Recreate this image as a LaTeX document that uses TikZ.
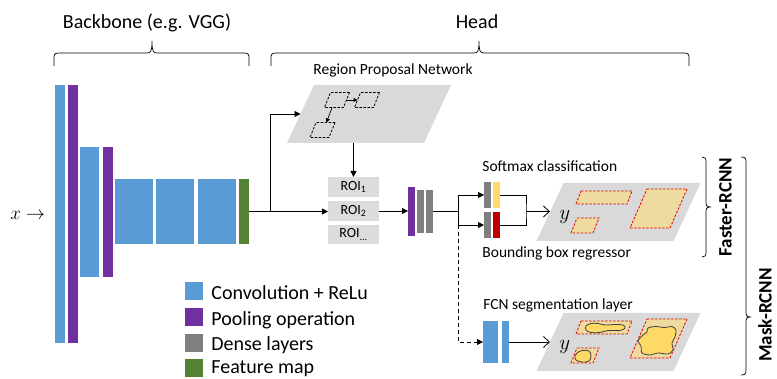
\RequirePackage{fix-cm}
\documentclass[tikz,border=0pt]{standalone}
\usepackage{fontspec}
\setmainfont{Carlito}
\usetikzlibrary{arrows.meta,calc}

\definecolor{convblue}{HTML}{5B9BD5}
\definecolor{poolpurple}{HTML}{7030A0}
\definecolor{densegray}{HTML}{7F7F7F}
\definecolor{featgreen}{HTML}{548235}
\definecolor{planegray}{HTML}{D9D9D9}
\definecolor{roigray}{HTML}{DCDCDC}
\definecolor{clsyellow}{HTML}{FFD966}
\definecolor{regred}{HTML}{C00000}
\definecolor{tanfill}{HTML}{EFDBA0}
\definecolor{boxred}{HTML}{E00000}
\definecolor{blobyellow}{HTML}{FFD966}
\definecolor{blobline}{HTML}{404040}

\begin{document}
\begin{tikzpicture}[x=1pt,y=-1pt,line width=0.8pt,
  layer/.style={inner sep=0pt, outer sep=0pt, draw=none, anchor=north west},
  roi/.style={layer, fill=roigray, minimum width=51pt, minimum height=20pt,
    font=\fontsize{14}{16}\selectfont},
  plane/.style={rectangle, xslant=0.466, minimum width=137pt, minimum height=58pt,
    inner sep=0pt, outer sep=0pt, fill=planegray},
  rbox/.style={rectangle, xslant=0.4, minimum width=19pt, minimum height=15pt,
    inner sep=0pt, outer sep=0pt, draw, line width=0.8pt,
    dash pattern=on 2.5pt off 1.5pt},
  arr/.style={-{Triangle[length=6pt,width=6pt]}},
  smallarr/.style={-{Triangle[length=4pt,width=4pt]}, line width=0.7pt},
  openarr/.style={-{Straight Barb[length=6pt,width=11pt]}},
  brace/.style={line width=0.7pt},
  biglbl/.style={inner sep=0pt, anchor=base, font=\fontsize{20}{24}\selectfont},
  leglbl/.style={inner sep=0pt, anchor=base west, font=\fontsize{20}{24}\selectfont},
  lbl/.style={inner sep=0pt, anchor=base west, font=\fontsize{15.5}{18}\selectfont},
  sidelbl/.style={inner sep=0pt, anchor=base, rotate=90,
    font=\fontsize{19}{22}\selectfont\bfseries},
  mathlbl/.style={inner sep=0pt, anchor=base west},
  tanbox/.style={fill=tanfill, draw=boxred, line width=0.8pt,
    dash pattern=on 2.5pt off 1.5pt},
  blob/.style={fill=blobyellow, draw=blobline, line width=0.8pt},
]
\useasboundingbox (0,0) rectangle (777,379);

% ---- top labels and braces
\node[biglbl] (bblbl) at (147,28.5) {Backbone (e.g. VGG)};
\node[biglbl] (headlbl) at (477,29) {Head};
\draw[brace] (54,66) -- (54,58) .. controls (54,54) and (55,53) .. (59,53)
  -- (147,53) .. controls (151,53) and (152,51) .. (152,41)
  .. controls (152,51) and (153,53) .. (157,53)
  -- (244,53) .. controls (248,53) and (249,54) .. (249,58) -- (249,66);
\draw[brace] (271,66) -- (271,58) .. controls (271,54) and (272,53) .. (276,53)
  -- (474,53) .. controls (478,53) and (479,51) .. (479,41)
  .. controls (479,51) and (480,53) .. (484,53)
  -- (684,53) .. controls (688,53) and (689,54) .. (689,58) -- (689,66);

% ---- backbone
\node[mathlbl, font=\fontsize{19}{22}\selectfont] (xin) at (10,220) {$x\rightarrow$};
\node[layer, fill=convblue, minimum width=10pt, minimum height=258pt] (conv1) at (55,85) {};
\node[layer, fill=poolpurple, minimum width=10pt, minimum height=258pt] (pool1) at (68,85) {};
\node[layer, fill=convblue, minimum width=19pt, minimum height=130pt] (conv2) at (80,147) {};
\node[layer, fill=poolpurple, minimum width=10pt, minimum height=130pt] (pool2) at (103,147) {};
\node[layer, fill=convblue, minimum width=38pt, minimum height=65pt] (conv3) at (115,179) {};
\node[layer, fill=convblue, minimum width=38pt, minimum height=65pt] (conv4) at (156,179) {};
\node[layer, fill=convblue, minimum width=38pt, minimum height=65pt] (conv5) at (198,179) {};
\node[layer, fill=featgreen, minimum width=10pt, minimum height=65pt] (feat) at (239,179) {};

% ---- region proposal network
\node[inner sep=0pt, anchor=base, font=\fontsize{15.5}{18}\selectfont] (rpnlbl) at (393,75) {Region Proposal Network};
\node[plane] (rpn) at (369,114) {};
\node[rbox] (anc1) at (337,100) {};
\node[rbox] (anc2) at (367,100) {};
\node[rbox] (anc3) at (322.5,130) {};
\draw[smallarr] (anc1.east) -- (anc2.west);
\draw[smallarr] ($(anc1.south west)!0.4!(anc1.south east)$)
  -- ($(anc3.north west)!0.55!(anc3.north east)$);

% ---- ROIs
\node[roi] (roi1) at (328,177) {ROI\textsubscript{1}};
\node[roi] (roi2) at (328,201) {ROI\textsubscript{2}};
\node[roi, minimum height=19pt] (roi3) at (328,225) {\raisebox{-2pt}{ROI\textsubscript{...}}};

\coordinate (fork) at (270,211.5);
\draw (feat.east) -- (fork);
\draw[arr] (fork) -- (fork -| roi2.west);
\draw[arr] (fork) |- (rpn.west);
\draw[arr] (rpn.south -| roi1.north) -- (roi1.north);

% ---- dense layers after ROI pooling
\node[layer, fill=poolpurple, minimum width=7pt, minimum height=49pt] (pool3) at (408,187) {};
\node[layer, fill=densegray, minimum width=7pt, minimum height=43pt] (dense1) at (417,190) {};
\node[layer, fill=densegray, minimum width=7pt, minimum height=43pt] (dense2) at (426,190) {};
\draw[arr] (roi2.east) -- (roi2.east -| pool3.west);

\coordinate (split) at (458,211.5);
\draw (dense2.east) -- (split);

% ---- classification / regression branch
\node[lbl] (clslbl) at (482,171.5) {Softmax classification};
\node[lbl] (reglbl) at (482,258) {Bounding box regressor};
\node[layer, fill=densegray, minimum width=7pt, minimum height=26pt] (clsdense) at (484,182) {};
\node[layer, fill=clsyellow, minimum width=7pt, minimum height=26pt] (clsout) at (493,182) {};
\node[layer, fill=densegray, minimum width=7pt, minimum height=26pt] (regdense) at (484,212) {};
\node[layer, fill=regred, minimum width=7pt, minimum height=26pt] (regout) at (493,212) {};
\draw[arr] (split) |- (clsdense.west);
\draw[arr] (split) |- (regdense.west);
\coordinate (merge) at (526,211.5);
\draw (clsout.east) -| (merge) |- (regout.east);

\node[plane] (soft) at (618.5,212) {};
\draw[openarr] (merge) -- (merge -| soft.west);
\node[mathlbl, font=\fontsize{21}{24}\selectfont] (ysoft) at (559,220) {$y$};

% ---- mask branch
\node[lbl] (fcnlbl) at (483,310) {FCN segmentation layer};
\node[layer, fill=convblue, minimum width=15pt, minimum height=42pt] (fcn1) at (483,321) {};
\node[layer, fill=convblue, minimum width=7pt, minimum height=42pt] (fcn2) at (502,321) {};
\draw[arr, dash pattern=on 4pt off 3pt] (split |- regdense.west) |- (fcn1.west);

\node[plane] (mask) at (618.5,342) {};
\draw[openarr] (fcn2.east) -- (fcn2.east -| mask.west);
\node[mathlbl, font=\fontsize{21}{24}\selectfont] (ymask) at (559,350) {$y$};

% ---- predicted boxes on both output planes
\foreach \dy in {0,130} {
  \begin{scope}[shift={(0,\dy)}]
    \draw[tanbox] (581,191) -- (632,191) -- (627,204) -- (576,204) -- cycle;
    \draw[tanbox] (577,218) -- (599,218) -- (593,233) -- (571,233) -- cycle;
    \draw[tanbox] (647,189) -- (687,189) -- (670,228) -- (630,228) -- cycle;
  \end{scope}
}

% ---- segmentation masks
\begin{scope}[shift={(0,130)}]
  \draw[blob] plot[smooth cycle, tension=0.6] coordinates {
    (586,196) (591,193.5) (598,193.5) (605,195) (615,194.5) (623,195)
    (625,198) (620,200.5) (608,200.5) (600,202.5) (591,202.5) (586,200)};
  \draw[blob] plot[smooth cycle, tension=0.6] coordinates {
    (577,223) (582,220.5) (589,221) (591,226) (589,231) (582,232) (576,230) (575,226)};
  \draw[blob] plot[smooth cycle, tension=0.5] coordinates {
    (648,198) (655,196.5) (665,197.5) (672,196.5) (676,200) (675,207)
    (672,213) (673,220) (668,224) (658,223) (650,225) (642,223)
    (641,216) (638,211) (643,205) (647,202)};
\end{scope}

% ---- side braces
\draw[brace] (702,157) .. controls (705,157) and (706,158) .. (706,162)
  -- (706,202) .. controls (706,206) and (707,207) .. (711,207)
  .. controls (707,207) and (706,208) .. (706,212)
  -- (706,252) .. controls (706,256) and (705,257) .. (702,257);
\draw[brace] (741,157) .. controls (745,157) and (746,158) .. (746,162)
  -- (746,312) .. controls (746,316) and (747,317) .. (751,317)
  .. controls (747,317) and (746,318) .. (746,322)
  -- (746,370) .. controls (746,374) and (745,375) .. (741,375);
\node[sidelbl] (fasterlbl) at (731.5,207) {Faster-RCNN};
\node[sidelbl] (masklbl) at (771.5,315) {Mask-RCNN};

% ---- legend
\node[layer, fill=convblue, minimum size=18pt] (lg1) at (185,282) {};
\node[layer, fill=poolpurple, minimum size=18pt] (lg2) at (185,308) {};
\node[layer, fill=densegray, minimum size=18pt] (lg3) at (185,334) {};
\node[layer, fill=featgreen, minimum size=18pt] (lg4) at (185,359) {};
\node[leglbl] (lt1) at (211,300) {Convolution + ReLu};
\node[leglbl] (lt2) at (211,326) {Pooling operation};
\node[leglbl] (lt3) at (211,351) {Dense layers};
\node[leglbl] (lt4) at (211,374) {Feature map};
\end{tikzpicture}
\end{document}
